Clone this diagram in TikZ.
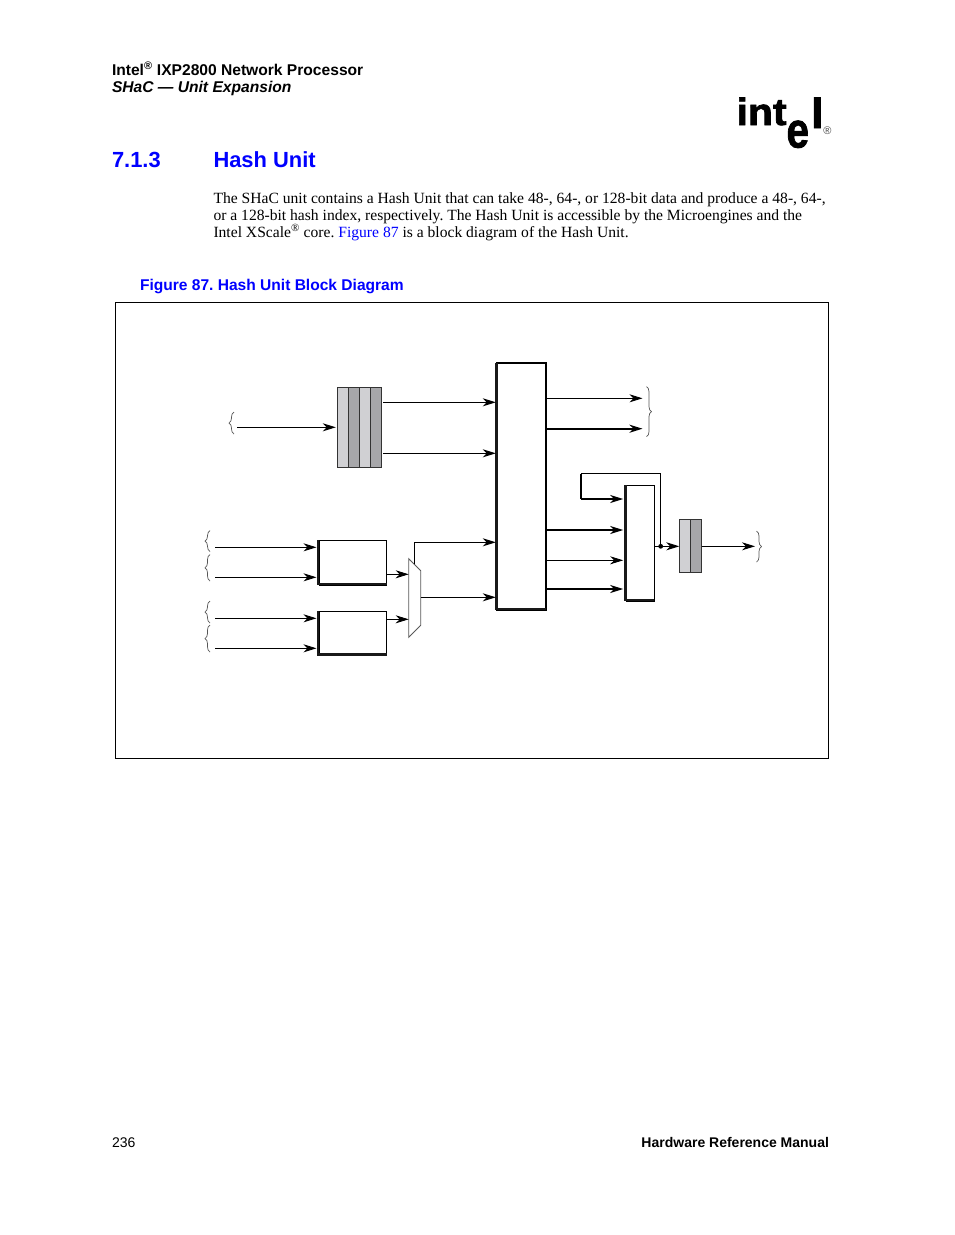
\documentclass[tikz,border=0pt]{standalone}
\usepackage{graphicx}
\usepackage{fontspec}
\setmainfont{Liberation Serif}
\setsansfont{Liberation Sans}
\newfontfamily\logofont[FakeStretch=1.08,FakeBold=1.8]{Liberation Sans}
\usetikzlibrary{arrows.meta,decorations.pathreplacing}
\definecolor{lightbar}{HTML}{D0D0D3}
\definecolor{darkbar}{HTML}{A7A7AA}
\definecolor{linkblue}{HTML}{0000FF}
\definecolor{graybrace}{HTML}{555555}
\newcommand{\fsz}[1]{\fontsize{#1}{#1}\selectfont}
\frenchspacing
\tikzset{
  x=1pt,y=-1pt,
  every node/.style={inner sep=0pt,outer sep=0pt},
  txt/.style={anchor=base west},
  head/.style={txt,font=\sffamily\bfseries\fsz{15.6}},
  foot/.style={font=\sffamily\fsz{14.0}},
  body/.style={txt,font=\rmfamily\fsz{15.6}},
  block/.style={draw=black,line width=0.8pt,fill=white,minimum width=#1,anchor=north west},
  bar/.style={draw=black!80,line width=0.6pt,anchor=north west},
  arr/.style={-{Stealth[length=13pt,width=8pt,inset=4pt]},line width=0.9pt,shorten >=1.5pt},
  arrb/.style={arr,line width=1.8pt},
  shadowline/.style={line width=2.4pt,black!90},
  bracegroup/.style={draw=graybrace,line width=0.7pt,decorate,decoration={brace,amplitude=5pt}},
}
\begin{document}
\begin{tikzpicture}
\useasboundingbox (0,0) rectangle (954,1235);
\fill[white] (0,0) rectangle (954,1235);

% page text
\node[head] (h1) at (112,75) {Intel\textsuperscript{®} IXP2800 Network Processor};
\node[head,font=\sffamily\bfseries\itshape\fsz{15.6}] (h2) at (112,92) {SHaC — Unit Expansion};
\node[txt,font=\sffamily\bfseries\fsz{21.9},text=linkblue] (sec) at (112,167.5) {7.1.3};
\node[txt,font=\sffamily\bfseries\fsz{21.9},text=linkblue] (sect) at (213.5,167.5) {Hash Unit};
\node[body] (b1) at (213.5,203) {The SHaC unit contains a Hash Unit that can take 48-, 64-, or 128-bit data and produce a 48-, 64-,};
\node[body] (b2) at (213.5,220) {or a 128-bit hash index, respectively. The Hash Unit is accessible by the Microengines and the};
\node[body] (b3) at (213.5,237) {Intel XScale\textsuperscript{®} core. \textcolor{linkblue}{Figure 87} is a block diagram of the Hash Unit.};
\node[txt,font=\sffamily\bfseries\fsz{15.56},text=linkblue] (cap) at (140,290) {Figure 87. Hash Unit Block Diagram};
\node[txt,foot] (pg) at (112,1147) {236};
\node[anchor=base east,foot,font=\sffamily\bfseries\fsz{14.0}] (man) at (829,1147) {Hardware Reference Manual};

% logo
\node[txt,font=\logofont\bfseries\fsz{38}] (lg1) at (736.5,125) {int};
\node[txt,font=\logofont\bfseries\fsz{50}] (lg2) at (786.5,147.5) {\scalebox{0.75}[1]{e}};
\node[txt,font=\logofont\bfseries\fsz{42}] (lg3) at (811,128) {l};
\node[font=\sffamily\fsz{11},text=black!70] (lg4) at (827.5,131) {®};

% frame
\node[draw=black,line width=0.7pt,anchor=north west,minimum width=713pt,minimum height=455.5pt] (frame) at (115.5,302.5) {};

% FIFO
\node[bar,fill=lightbar,minimum width=11pt,minimum height=80pt] (f1) at (337.3,387.3) {};
\node[bar,fill=darkbar,minimum width=11pt,minimum height=80pt] (f2) at (f1.north east) {};
\node[bar,fill=lightbar,minimum width=11pt,minimum height=80pt] (f3) at (f2.north east) {};
\node[bar,fill=darkbar,minimum width=11pt,minimum height=80pt] (f4) at (f3.north east) {};

% main block
\node[block=48.7pt,line width=1.9pt,minimum height=247.3pt] (main) at (497.3,362.7) {};
\draw[shadowline] ([xshift=-0.9pt]main.north west) -- ([xshift=-0.9pt,yshift=0.9pt]main.south west) -- ([yshift=0.9pt]main.south east);

% blocks A, B
\node[block=67.8pt,minimum height=44.7pt] (ba) at (319,540.3) {};
\draw[shadowline] ([xshift=-0.9pt]ba.north west) -- ([xshift=-0.9pt,yshift=0.9pt]ba.south west) -- ([yshift=0.9pt]ba.south east);
\node[block=67.5pt,minimum height=44pt] (bb) at (319,611.3) {};
\draw[shadowline] ([xshift=-0.9pt]bb.north west) -- ([xshift=-0.9pt,yshift=0.9pt]bb.south west) -- ([yshift=0.9pt]bb.south east);

% mux
\coordinate (m1) at (408.7,558.7);
\coordinate (m2) at (420.7,570.7);
\coordinate (m3) at (420.7,625.3);
\coordinate (m4) at (408.7,637.3);
\coordinate (muxtop) at (414.3,564.3);
\draw[line width=0.8pt,draw=black!65,fill=white] (m1) -- (m2) -- (m3) -- (m4) -- cycle;

% block C
\node[block=27.6pt,minimum height=116pt] (bc) at (626.7,485.3) {};
\draw[shadowline] ([xshift=-1.3pt]bc.north west) -- ([xshift=-1.3pt,yshift=1.3pt]bc.south west) -- ([yshift=1.3pt]bc.south east);

% output register
\node[bar,fill=lightbar,minimum width=11pt,minimum height=53pt] (d1) at (679.3,519.3) {};
\node[bar,fill=darkbar,minimum width=11.4pt,minimum height=53pt] (d2) at (d1.north east) {};

% brace end points
\coordinate (inb) at (237,427.3);
\foreach \n/\y in {a1/547.3,a2/577.3,b1/618.3,b2/648.3}{\coordinate (in\n) at (215,\y);}
\coordinate (outtop) at (644,398.3);
\coordinate (outtop2) at (644,428.7);
\coordinate (outend) at (756.5,546.3);
\coordinate (jn) at (660.7,546.3);
\coordinate (fb1) at (660.7,473.7);
\coordinate (fb2) at (580.7,473.7);
\coordinate (fb3) at (580.7,499);

% connectors
\draw[arr] (inb) -- (inb -| f1.west);
\draw[arr] (383,402.3) -- (383,402.3 -| main.west);
\draw[arr] (383,453.3) -- (383,453.3 -| main.west);
\draw[arr,shorten >=2.5pt] (ina1) -- (ina1 -| ba.west);
\draw[arr,shorten >=2.5pt] (ina2) -- (ina2 -| ba.west);
\draw[arr,shorten >=2.5pt] (inb1) -- (inb1 -| bb.west);
\draw[arr,shorten >=2.5pt] (inb2) -- (inb2 -| bb.west);
\draw[arr,shorten >=0pt] (ba.east |- 0,574.3) -- (m1 |- 0,574.3);
\draw[arr,shorten >=0pt] (bb.east |- 0,619.3) -- (m1 |- 0,619.3);
\draw[arr] (muxtop) |- (main.west |- 0,542.3);
\draw[arr] (m2 |- 0,597.3) -- (main.west |- 0,597.3);
\draw[arr] (main.east |- outtop) -- (outtop);
\draw[arrb] (main.east |- outtop2) -- (outtop2);
\draw[arrb] (main.east |- 0,530) -- ([xshift=-2pt]bc.west |- 0,530);
\draw[arr] (main.east |- 0,560.3) -- ([xshift=-2pt]bc.west |- 0,560.3);
\draw[arrb] (main.east |- 0,589) -- ([xshift=-2pt]bc.west |- 0,589);
\draw[arr,shorten >=0pt] (bc.east |- jn) -- (d1.west |- jn);
\draw[arr] (d2.east |- jn) -- (outend);
\draw[line width=0.9pt] (jn) -- (fb1) -- (fb2);
\draw[line width=1.8pt] (fb2) -- (fb3);
\draw[arrb] (fb3) -- ([xshift=-2pt]bc.west |- fb3);
\fill (jn) circle (2.4pt);

% braces
\draw[bracegroup] (234,434) -- (234,412);
\draw[bracegroup] (210,551.5) -- (210,530.7);
\draw[bracegroup] (210,581) -- (210,554.5);
\draw[bracegroup] (210,623) -- (210,601);
\draw[bracegroup] (210,652) -- (210,625);
\draw[bracegroup] (646.5,386.7) -- (646.5,436.7);
\draw[bracegroup] (756.5,531) -- (756.5,562);
\end{tikzpicture}
\end{document}
